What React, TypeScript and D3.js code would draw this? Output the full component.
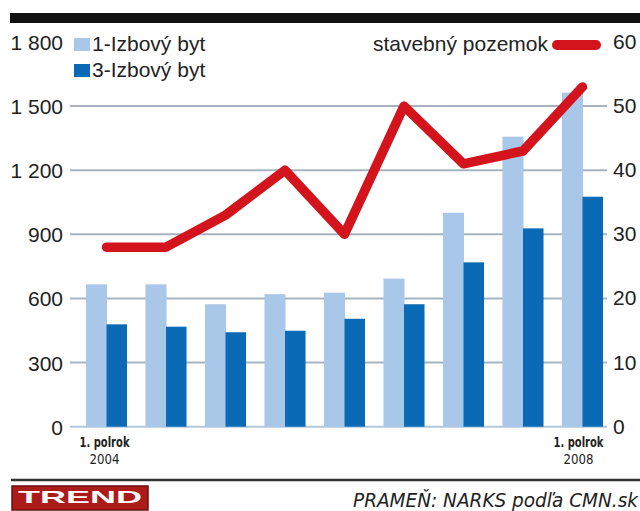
import React from "react";
import * as d3 from "d3";

const categories = [
  "1. polrok 2004", "2. polrok 2004", "1. polrok 2005", "2. polrok 2005",
  "1. polrok 2006", "2. polrok 2006", "1. polrok 2007", "2. polrok 2007",
  "1. polrok 2008",
];
const oneRoom = [666, 666, 573, 620, 627, 693, 1001, 1357, 1563];
const threeRoom = [479, 468, 442, 449, 505, 573, 769, 928, 1076];
const landPrice = [28, 28, 33, 40, 30, 50, 41, 43, 53];
const leftTicks = [0, 300, 600, 900, 1200, 1500, 1800];
const rightTicks = [0, 10, 20, 30, 40, 50, 60];
const seriesNames = ["1-Izbový byt", "3-Izbový byt", "stavebný pozemok"];
const firstLabel = ["1. polrok", "2004"];
const lastLabel = ["1. polrok", "2008"];
const sourceText = "PRAMEŇ: NARKS podľa CMN.sk";
const brand = "TREND";

const W = 640;
const H = 511;
const LIGHT = "#a9c7e8";
const DARK = "#0b6ab6";
const RED = "#d3141c";
const GRID = "#a7b4c0";
const TXT = "#222";
const FONT = "'Liberation Sans', Arial, sans-serif";
const COND = "'DejaVu Sans Condensed', 'DejaVu Sans', sans-serif";

export default function App() {
  const x = d3.scaleBand<string>().domain(categories).range([86, 603]).paddingInner(0.31).paddingOuter(0);
  const bw = x.bandwidth();
  const sub = d3.scaleBand<string>().domain(["a", "b"]).range([0, bw]).padding(0);
  const y = d3.scaleLinear().domain([0, 1800]).range([426.7, 42]);
  const yR = d3.scaleLinear().domain([0, 60]).range([426.7, 42]);
  const fmt = d3.formatLocale({ decimal: ",", thousands: " ", grouping: [3], currency: ["", ""] }).format(",d");

  const line = d3
    .line<number>()
    .x((_, i) => (x(categories[i]) as number) + bw / 2)
    .y((d) => yR(d));

  const firstX = (x(categories[0]) as number) + bw / 2 - 2;
  const lastX = (x(categories[categories.length - 1]) as number) + bw / 2 - 4;

  return (
    <svg width={W} height={H} style={{ position: "absolute", left: 0, top: 0, background: "#fff" }}>
      <rect x={0} y={0} width={W} height={H} fill="#fff" />
      {/* top black bar */}
      <rect x={10} y={13} width={630} height={10} fill="#111" />

      {/* gridlines */}
      {leftTicks.slice(0, -1).map((t) => (
        <line key={t} x1={70} x2={607} y1={y(t)} y2={y(t)} stroke={t === 0 ? "#b4c8dc" : GRID} strokeWidth={2} />
      ))}

      {/* left tick labels */}
      {leftTicks.map((t) => (
        <text key={t} x={63} y={y(t) + 8} textAnchor="end" fontFamily={FONT} fontSize={21} fill={TXT}>
          {fmt(t)}
        </text>
      ))}
      {/* right tick labels */}
      {rightTicks.map((t) => (
        <text key={t} x={613} y={yR(t) + 7} textAnchor="start" fontFamily={FONT} fontSize={21} fill={TXT}>
          {t}
        </text>
      ))}

      {/* bars */}
      {categories.map((c, i) => (
        <g key={c} transform={`translate(${x(c)},0)`}>
          <rect x={sub("a")} width={sub.bandwidth() + 0.5} y={y(oneRoom[i])} height={y(0) - y(oneRoom[i])} fill={LIGHT} />
          <rect x={sub("b")} width={sub.bandwidth()} y={y(threeRoom[i])} height={y(0) - y(threeRoom[i])} fill={DARK} />
        </g>
      ))}

      {/* line */}
      <path d={line(landPrice) || ""} fill="none" stroke={RED} strokeWidth={9.5} strokeLinejoin="round" strokeLinecap="round" />

      {/* legend */}
      <rect x={74} y={38} width={16} height={13} fill={LIGHT} />
      <text x={92} y={51} fontFamily={FONT} fontSize={21} fill={TXT}>{seriesNames[0]}</text>
      <rect x={74} y={64} width={16} height={13} fill={DARK} />
      <text x={92} y={77} fontFamily={FONT} fontSize={21} fill={TXT}>{seriesNames[1]}</text>
      <text x={548} y={51} textAnchor="end" fontFamily={FONT} fontSize={21} fill={TXT}>{seriesNames[2]}</text>
      <line x1={557} x2={596} y1={45} y2={45} stroke={RED} strokeWidth={10} strokeLinecap="round" />

      {/* x labels */}
      {[{ cx: firstX, l: firstLabel }, { cx: lastX, l: lastLabel }].map((o, k) => (
        <g key={k}>
          <text x={o.cx - 25} y={447} textLength={50} lengthAdjust="spacingAndGlyphs" fontFamily={COND} fontSize={14} fontWeight="bold" fill={TXT}>{o.l[0]}</text>
          <text x={o.cx - 15} y={464} textLength={30} lengthAdjust="spacingAndGlyphs" fontFamily={COND} fontSize={14} fill={TXT}>{o.l[1]}</text>
        </g>
      ))}

      {/* bottom rule */}
      <line x1={11} x2={640} y1={480} y2={480} stroke="#333" strokeWidth={2.5} />

      {/* brand */}
      <rect x={12} y={486} width={136} height={24} fill="#ad1a1a" stroke="#6e0c0c" strokeWidth={1.5} />
      <text x={18} y={503} textLength={124} lengthAdjust="spacingAndGlyphs" fontFamily={FONT} fontWeight="bold" fontSize={17} fill="#fff">{brand}</text>

      {/* source */}
      <text x={638} y={507} textAnchor="end" textLength={285} lengthAdjust="spacingAndGlyphs" fontFamily={COND} fontStyle="italic" fontSize={19} fill={TXT}>
        {sourceText}
      </text>
    </svg>
  );
}
